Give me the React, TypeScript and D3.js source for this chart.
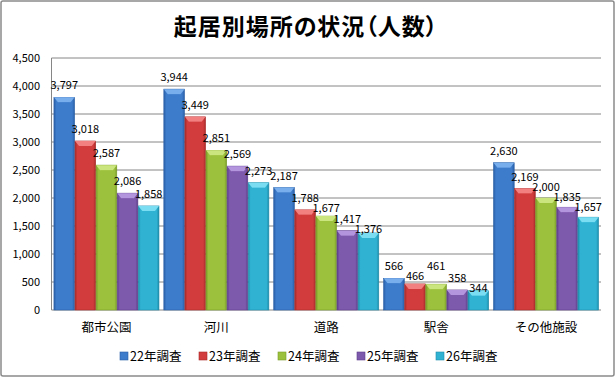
import React from "react";
import * as d3 from "d3";

const categories = ["都市公園", "河川", "道路", "駅舎", "その他施設"];
const seriesNames = ["22年調査", "23年調査", "24年調査", "25年調査", "26年調査"];
const s22 = [3797, 3944, 2187, 566, 2630];
const s23 = [3018, 3449, 1788, 466, 2169];
const s24 = [2587, 2851, 1677, 461, 2000];
const s25 = [2086, 2569, 1417, 358, 1835];
const s26 = [1858, 2273, 1376, 344, 1657];
const yTicks = [0, 500, 1000, 1500, 2000, 2500, 3000, 3500, 4000, 4500];
const title = "起居別場所の状況（人数）";

const seriesValues = [s22, s23, s24, s25, s26];
const colors = [
  { base: "#3D7BCB", light: "#79AEEC", dark: "#2A5FA6" },
  { base: "#D23C3C", light: "#F28080", dark: "#A92B2B" },
  { base: "#9CC23D", light: "#CBE57E", dark: "#7A9C28" },
  { base: "#7E5AAD", light: "#B395DE", dark: "#5E3F8A" },
  { base: "#30B3D3", light: "#7ADDF2", dark: "#1E8CAA" },
];

const W = 616, H = 378;
const left = 51.5, right = 601, top = 58, bottom = 310;
const font = "'Noto Sans CJK JP', 'Noto Sans', sans-serif";

export default function App() {
  const x0 = d3.scaleBand<string>().domain(categories).range([left, right]).paddingInner(0).paddingOuter(0);
  const x1 = d3.scaleBand<number>().domain(d3.range(seriesNames.length)).range([0, x0.bandwidth()]).paddingOuter(0.115).paddingInner(0.02);
  const y = d3.scaleLinear().domain([0, 4500]).range([bottom, top]);
  const fmt = d3.format(",");

  // label placement with simple collision avoidance against previous label in group
  const labelCenters = categories.map((_, ci) => {
    const out: number[] = [];
    let prev: number | null = null;
    seriesValues.forEach((vals) => {
      const barTop = y(vals[ci]);
      let c = barTop - 12;
      if (prev !== null && Math.abs(c - prev) < 10) {
        const down = prev + 10;
        c = down <= barTop - 2 ? down : prev - 10;
      }
      out.push(c);
      prev = c;
    });
    return out;
  });

  return (
    <svg width={W} height={H} style={{ position: "absolute", left: 0, top: 0 }} xmlns="http://www.w3.org/2000/svg">
      <defs>
        {colors.map((c, i) => (
          <linearGradient key={i} id={`g${i}`} x1="0" x2="1" y1="0" y2="0">
            <stop offset="0" stopColor={c.dark} />
            <stop offset="0.12" stopColor={c.base} />
            <stop offset="0.5" stopColor={c.base} />
            <stop offset="0.88" stopColor={c.base} />
            <stop offset="1" stopColor={c.dark} />
          </linearGradient>
        ))}
      </defs>
      <rect x={1} y={1} width={W - 3} height={H - 3} fill="#fff" stroke="#8a8a8a" strokeWidth={1.5} rx={2} />
      <text x={306} y={35} textAnchor="middle" fontFamily={font} fontSize={23} fontWeight="bold" fill="#000"
        letterSpacing={1} style={{ fontFeatureSettings: '"palt"' }}>
        {title}
      </text>
      {yTicks.map((t) => (
        <g key={t}>
          {t > 0 && <line x1={left} x2={right} y1={y(t)} y2={y(t)} stroke="#868686" strokeWidth={1} />}
          <text x={40} y={y(t) + 4} textAnchor="end" fontFamily={font} fontSize={11} fill="#000">{fmt(t)}</text>
        </g>
      ))}
      <line x1={left} x2={left} y1={top} y2={bottom} stroke="#868686" />
      <line x1={left} x2={right} y1={bottom} y2={bottom} stroke="#868686" />
      {categories.map((cat, ci) => (
        <g key={cat}>
          {seriesValues.map((vals, si) => {
            const bx = (x0(cat) as number) + (x1(si) as number);
            const bw = x1.bandwidth();
            const by = y(vals[ci]);
            const bh = bottom - by;
            const c = colors[si];
            const cap = Math.min(5, bh / 2);
            return (
              <g key={si}>
                <rect x={bx} y={by} width={bw} height={bh} fill={`url(#g${si})`} stroke={c.dark} strokeWidth={0.6} />
                <polygon points={`${bx},${by} ${bx + bw},${by} ${bx + bw - 4},${by + cap} ${bx + 4},${by + cap}`} fill={c.light} />
                <polygon points={`${bx + 4},${by + cap} ${bx + bw - 4},${by + cap} ${bx + bw / 2},${by + cap + 3}`} fill={c.base} opacity={0.6} />
              </g>
            );
          })}
          {seriesValues.map((vals, si) => {
            const bx = (x0(cat) as number) + (x1(si) as number) + x1.bandwidth() / 2;
            return (
              <text key={`l${si}`} x={bx} y={labelCenters[ci][si] + 4} textAnchor="middle" fontFamily={font} fontSize={11} fill="#000">{fmt(vals[ci])}</text>
            );
          })}
          <text x={(x0(cat) as number) + x0.bandwidth() / 2} y={332} textAnchor="middle" fontFamily={font} fontSize={12.5} fill="#000">{cat}</text>
        </g>
      ))}
      {seriesNames.map((name, si) => {
        const lx = 120 + si * 79;
        return (
          <g key={name}>
            <rect x={lx} y={352} width={8} height={8} fill={colors[si].base} stroke={colors[si].dark} strokeWidth={0.6} />
            <text x={lx + 10} y={360.5} fontFamily={font} fontSize={12.5} fill="#000">{name}</text>
          </g>
        );
      })}
    </svg>
  );
}
